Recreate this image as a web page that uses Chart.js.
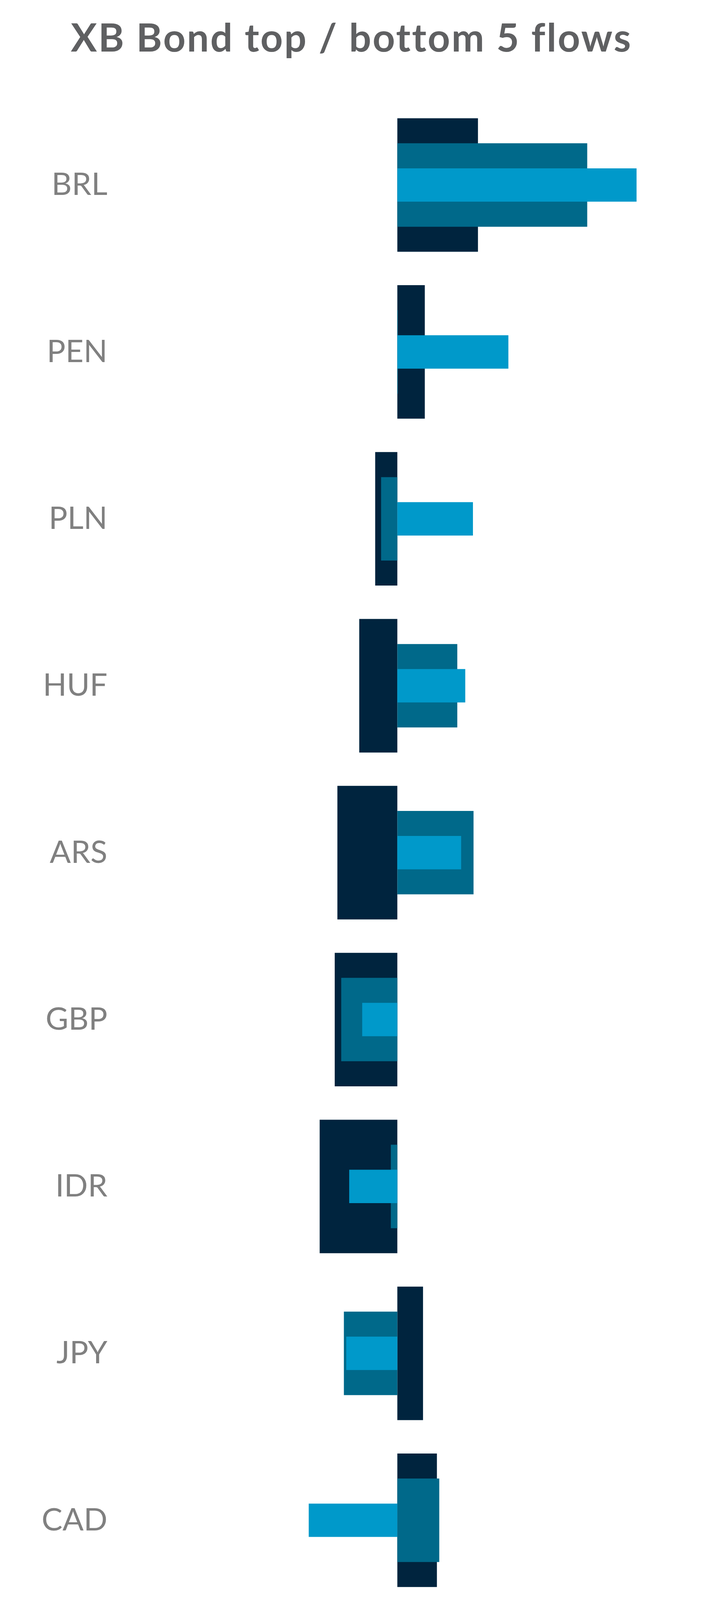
<!DOCTYPE html>
<html>
<head>
<meta charset="utf-8">
<title>XB Bond top / bottom 5 flows</title>
<script src="https://cdn.jsdelivr.net/npm/chart.js@4.4.1/dist/chart.umd.min.js"></script>
<style>
  html, body { margin: 0; padding: 0; background: #fff; }
  body { font-family: Lato, "Open Sans", sans-serif; }
  #page { position: relative; width: 1800px; height: 5196px; overflow: hidden; }
  #chartBox { position: absolute; left: 0; top: 0; width: 1800px; height: 4700px; }
  #legend { position: absolute; left: 80px; top: 4788px; }
  .lg-row { display: flex; align-items: center; height: 65px; margin-bottom: 64px; }
  .lg-box { width: 55px; height: 65px; margin-right: 24px; }
  .lg-text { font-size: 75px; line-height: 65px; color: #636466; }
  #source { position: absolute; left: 765px; top: 4890px; font-size: 74px; line-height: 86px; color: #636466; white-space: pre; }
</style>
</head>
<body>
<div id="page">
  <div id="chartBox"><canvas id="cFlows"></canvas></div>
  <div id="legend"></div>
  <div id="source"></div>
</div>
<script>
// XB bond flows — top / bottom 5 currencies, overlapping week / month / quarter bars
const currencies = ['BRL', 'PEN', 'PLN', 'HUF', 'ARS', 'GBP', 'IDR', 'JPY', 'CAD', 'AUD'];
const weekFlows    = [0.810, 0.376, 0.256, 0.230, 0.216, -0.119, -0.163, -0.173, -0.300, -0.455];
const monthFlows   = [0.643, 0.002, -0.055, 0.203, 0.258, -0.190, -0.022, -0.181, 0.142, -0.330];
const quarterFlows = [0.273, 0.093, -0.075, -0.129, -0.203, -0.212, -0.263, 0.087, 0.134, -0.375];
const xTickValues = [-0.5, 0, 0.5];
const sourceLines = ['Data as of 2025-05-09', 'Sources:  BNY, MSCI'];

const COLORS = { week: '#0099ca', month: '#00698a', quarter: '#00243e' };
const FONT = 'Lato, "Open Sans", sans-serif';

// the title face in the original is wider than Lato, so space the title letters a bit.
// title is drawn before the datasets; tick labels get z: 1 so they come after the reset
const titleSpacing = {
  id: 'titleSpacing',
  beforeDraw: chart => { chart.ctx.letterSpacing = '3.5px'; },
  beforeDatasetsDraw: chart => { chart.ctx.letterSpacing = '0px'; }
};

class FlowsChart {
  static init() {
    this.datasets = [
      { label: 'Week', data: weekFlows, backgroundColor: COLORS.week, barPercentage: 0.2 },
      { label: 'Month', data: monthFlows, backgroundColor: COLORS.month, barPercentage: 0.5 },
      { label: 'Quarter', data: quarterFlows, backgroundColor: COLORS.quarter, barPercentage: 0.8 },
    ].map(ds => ({ ...ds, grouped: false, categoryPercentage: 1, borderWidth: 0 }));
    this.render();
    this.renderLegend();
    document.getElementById('source').textContent = sourceLines.join('\n');
  }

  static render() {
    const ctx = document.getElementById('cFlows');
    new Chart(ctx, {
      type: 'bar',
      data: { labels: currencies, datasets: this.datasets },
      plugins: [titleSpacing],
      options: {
        indexAxis: 'y',
        responsive: true,
        maintainAspectRatio: false,
        devicePixelRatio: 1,
        animation: false,
        layout: { padding: { left: 0, right: 0, top: 0, bottom: 12 } },
        plugins: {
          legend: { display: false },
          tooltip: { enabled: false },
          title: {
            display: true,
            text: 'XB Bond top / bottom 5 flows',
            color: '#5f6062',
            font: { family: FONT, size: 100, weight: 'bold' },
            padding: { top: 40, bottom: 100 }
          }
        },
        scales: {
          x: {
            type: 'linear',
            min: -0.95,
            max: 1.035,
            grid: { display: false, drawTicks: false },
            border: { display: false },
            afterBuildTicks: axis => { axis.ticks = xTickValues.map(v => ({ value: v })); },
            ticks: {
              z: 1,
              autoSkip: false,
              maxRotation: 0,
              padding: 32,
              color: '#808080',
              font: { family: FONT, size: 76 },
              callback: v => Number(v).toFixed(1)
            }
          },
          y: {
            grid: { display: false, drawTicks: false },
            border: { display: false },
            afterFit: scale => { scale.width = 299; },
            ticks: {
              z: 1,
              padding: 24,
              color: '#808080',
              font: { family: FONT, size: 80 }
            }
          }
        }
      }
    });
  }

  static renderLegend() {
    const legend = document.getElementById('legend');
    legend.innerHTML = this.datasets.map(ds => `
      <div class="lg-row">
        <div class="lg-box" style="background:${ds.backgroundColor}"></div>
        <div class="lg-text">${ds.label}</div>
      </div>
    `).join('');
  }
}

FlowsChart.init();
</script>
</body>
</html>
